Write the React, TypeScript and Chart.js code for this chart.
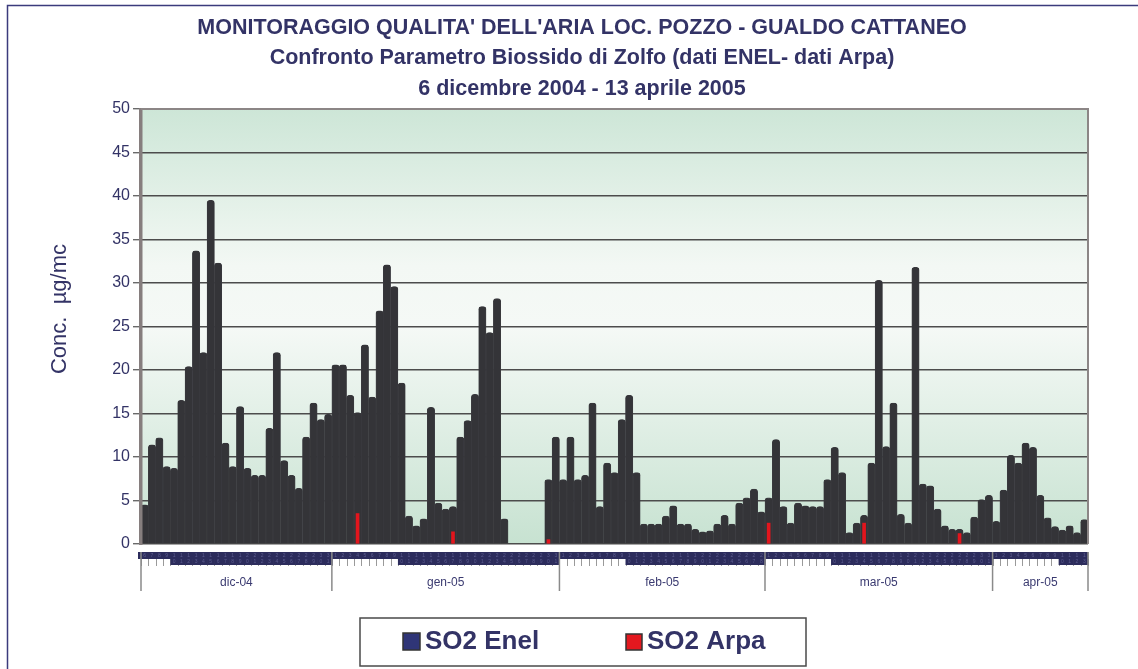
import React, { useEffect, useRef } from 'react';
import { Chart, registerables } from 'chart.js';

Chart.register(...registerables);

const TITLE_LINES = [
  "MONITORAGGIO QUALITA' DELL'ARIA LOC. POZZO - GUALDO CATTANEO",
  'Confronto Parametro Biossido di Zolfo (dati ENEL- dati Arpa)',
  '6 dicembre 2004 - 13 aprile 2005',
];
const Y_TITLE = 'Conc.  µg/mc';
const LEGEND_ENEL = 'SO2 Enel';
const LEGEND_ARPA = 'SO2 Arpa';

const MONTH_LABELS = ['dic-04', 'gen-05', 'feb-05', 'mar-05', 'apr-05'];
const MONTH_NUMBERS = [12, 1, 2, 3, 4];
const MONTH_YEARS = [2004, 2005, 2005, 2005, 2005];
const MONTH_FIRST_DAY = [6, 1, 1, 1, 1];
const MONTH_LAST_DAY = [31, 31, 28, 31, 13];

const Y_TICKS = [0, 5, 10, 15, 20, 25, 30, 35, 40, 45, 50];

// SO2 Enel, one value per day from 6 Dec 2004 to 13 Apr 2005 (µg/mc)
const ENEL_DEC = [4.5, 11.4, 12.2, 8.9, 8.7, 16.5, 20.4, 33.7, 22.0, 39.5, 32.3, 11.6, 8.9, 15.8, 8.7, 7.9, 7.9, 13.3, 22.0, 9.6, 7.9, 6.4, 12.3, 16.2, 14.3, 14.9];
const ENEL_JAN = [20.6, 20.6, 17.1, 15.1, 22.9, 16.9, 26.8, 32.1, 29.6, 18.5, 3.2, 2.1, 2.9, 15.7, 4.7, 4.0, 4.3, 12.3, 14.2, 17.2, 27.3, 24.3, 28.2, 2.9, 0, 0, 0, 0, 0, 7.4, 12.3];
const ENEL_FEB = [7.4, 12.3, 7.4, 7.9, 16.2, 4.3, 9.3, 8.2, 14.3, 17.1, 8.2, 2.3, 2.3, 2.3, 3.2, 4.4, 2.3, 2.3, 1.7, 1.4, 1.5, 2.3, 3.3, 2.3, 4.7, 5.3, 6.3, 3.7];
const ENEL_MAR = [5.3, 12.0, 4.3, 2.4, 4.7, 4.4, 4.3, 4.3, 7.4, 11.1, 8.2, 1.3, 2.4, 3.3, 9.3, 30.3, 11.2, 16.2, 3.4, 2.4, 31.8, 6.9, 6.7, 4.0, 2.1, 1.7, 1.7, 1.3, 3.1, 5.1, 5.6];
const ENEL_APR = [2.6, 6.2, 10.2, 9.3, 11.6, 11.1, 5.6, 3.0, 2.0, 1.6, 2.1, 1.3, 2.8];

// SO2 Arpa: the few days where the series is visible
const ARPA_DAY_INDEX = [29, 42, 55, 85, 98, 111];
const ARPA_VALUES = [3.5, 1.4, 0.5, 2.4, 2.4, 1.2];

const NAVY = '#333366';

export default function App() {
  const canvasRef = useRef<HTMLCanvasElement | null>(null);

  useEffect(() => {
    const canvas = canvasRef.current;
    if (!canvas) return;

    const dayNumbers: number[] = [];
    const labels: string[] = [];
    const monthStart: number[] = [];
    MONTH_LABELS.forEach((_, m) => {
      monthStart.push(dayNumbers.length);
      for (let d = MONTH_FIRST_DAY[m]; d <= MONTH_LAST_DAY[m]; d++) {
        dayNumbers.push(d);
        labels.push(`${String(d).padStart(2, '0')}/${String(MONTH_NUMBERS[m]).padStart(2, '0')}/${MONTH_YEARS[m]}`);
      }
    });
    monthStart.push(dayNumbers.length);

    const enel = [...ENEL_DEC, ...ENEL_JAN, ...ENEL_FEB, ...ENEL_MAR, ...ENEL_APR];
    const arpa: (number | null)[] = labels.map(() => null);
    ARPA_DAY_INDEX.forEach((idx, k) => {
      arpa[idx] = ARPA_VALUES[k];
    });

    const decor = {
      id: 'decor',
      beforeDraw(chart: any) {
        const { ctx, chartArea: a } = chart;
        ctx.save();
        ctx.fillStyle = '#ffffff';
        ctx.fillRect(0, 0, chart.width, chart.height);
        const g = ctx.createLinearGradient(0, a.top, 0, a.bottom);
        g.addColorStop(0, '#cde6d7');
        g.addColorStop(0.36, '#f3f8f4');
        g.addColorStop(0.5, '#f5f9f6');
        g.addColorStop(1, '#c7e2d1');
        ctx.fillStyle = g;
        ctx.fillRect(a.left, a.top, a.right - a.left, a.bottom - a.top);
        ctx.restore();
      },
      afterDraw(chart: any) {
        const { ctx, chartArea: a } = chart;
        const xs = chart.scales.x;
        const w = xs.getPixelForValue(1) - xs.getPixelForValue(0);
        const n = dayNumbers.length;
        const edge = (i: number) => (i >= n ? xs.getPixelForValue(n - 1) + w / 2 : xs.getPixelForValue(i) - w / 2);
        ctx.save();

        // plot frame: left wall, top and right borders
        ctx.fillStyle = '#867e7e';
        ctx.fillRect(a.left - 2, a.top - 1, 3.5, a.bottom - a.top + 2);
        ctx.strokeStyle = '#8c8686';
        ctx.lineWidth = 2;
        ctx.beginPath();
        ctx.moveTo(a.left, a.top);
        ctx.lineTo(a.right, a.top);
        ctx.lineTo(a.right, a.bottom);
        ctx.stroke();

        // day tick marks
        ctx.strokeStyle = '#9a9a9a';
        ctx.lineWidth = 1;
        for (let i = 0; i <= n; i++) {
          const x = Math.round(edge(i)) + 0.5;
          ctx.beginPath();
          ctx.moveTo(x, a.bottom + 8);
          ctx.lineTo(x, a.bottom + 22);
          ctx.stroke();
        }
        // day labels (dense, squashed)
        const row1 = a.bottom + 8;
        ctx.fillStyle = '#2c2c5c';
        ctx.fillRect(a.left - 3, row1, a.right - a.left + 3, 7);
        for (let i = 0; i < n; i++) {
          if (dayNumbers[i] >= 10) {
            ctx.fillRect(edge(i), row1 + 7, w + 0.5, 6);
          }
        }
        ctx.fillStyle = '#5c5c8e';
        ctx.font = '5px Arial';
        ctx.textAlign = 'center';
        ctx.textBaseline = 'middle';
        for (let i = 0; i < n; i++) {
          const s = String(dayNumbers[i]);
          const cx = xs.getPixelForValue(i);
          ctx.fillText(s[0], cx, row1 + 3.5);
          if (s.length > 1) ctx.fillText(s[1], cx, row1 + 10);
        }

        // month separators and labels
        ctx.strokeStyle = '#8a8a8a';
        ctx.lineWidth = 1.5;
        for (let m = 0; m < monthStart.length; m++) {
          const x = edge(monthStart[m]);
          ctx.beginPath();
          ctx.moveTo(x, row1);
          ctx.lineTo(x, a.bottom + 47);
          ctx.stroke();
        }
        ctx.fillStyle = '#3a3a70';
        ctx.font = '12px Arial';
        MONTH_LABELS.forEach((lab, m) => {
          const x0 = edge(monthStart[m]);
          const x1 = edge(monthStart[m + 1]);
          ctx.fillText(lab, (x0 + x1) / 2, a.bottom + 39);
        });

        // title
        ctx.fillStyle = NAVY;
        ctx.font = 'bold 21.5px Arial';
        ctx.textAlign = 'center';
        ctx.textBaseline = 'middle';
        TITLE_LINES.forEach((t, k) => ctx.fillText(t, 582, 28 + k * 30.5));

        // y title
        ctx.save();
        ctx.translate(60, 309);
        ctx.rotate(-Math.PI / 2);
        ctx.font = '22px Arial';
        ctx.fillStyle = NAVY;
        ctx.fillText(Y_TITLE, 0, 0);
        ctx.restore();

        // legend
        ctx.fillStyle = '#ffffff';
        ctx.fillRect(360, 618, 446, 48);
        ctx.strokeStyle = '#4a4a4a';
        ctx.lineWidth = 1.5;
        ctx.strokeRect(360, 618, 446, 48);
        ctx.lineWidth = 1.5;
        ctx.strokeStyle = '#333333';
        ctx.fillStyle = '#2f3577';
        ctx.fillRect(403, 633, 17, 17);
        ctx.strokeRect(403, 633, 17, 17);
        ctx.fillStyle = '#e3181f';
        ctx.fillRect(626, 634, 16, 16);
        ctx.strokeRect(626, 634, 16, 16);
        ctx.fillStyle = NAVY;
        ctx.font = 'bold 26px Arial';
        ctx.textAlign = 'left';
        ctx.textBaseline = 'middle';
        ctx.fillText(LEGEND_ENEL, 425, 642);
        ctx.fillText(LEGEND_ARPA, 647, 642);

        // outer frame
        ctx.strokeStyle = '#3b3b7c';
        ctx.lineWidth = 1.5;
        ctx.beginPath();
        ctx.moveTo(7.5, chart.height + 5);
        ctx.lineTo(7.5, 5.5);
        ctx.lineTo(chart.width + 5, 5.5);
        ctx.stroke();

        ctx.restore();
      },
    };

    const chart = new Chart(canvas, {
      type: 'bar',
      data: {
        labels,
        datasets: [
          {
            label: LEGEND_ENEL,
            data: enel,
            backgroundColor: '#343438',
            borderColor: '#3d3d42',
            borderWidth: 0.6,
            borderSkipped: 'start',
            borderRadius: { topLeft: 3, topRight: 3, bottomLeft: 0, bottomRight: 0 },
            barPercentage: 1.0,
            categoryPercentage: 1.0,
            grouped: false,
            order: 1,
          },
          {
            label: LEGEND_ARPA,
            data: arpa,
            backgroundColor: '#e3151d',
            borderWidth: 0,
            barThickness: 3,
            grouped: false,
            order: 0,
          },
        ],
      },
      options: {
        responsive: false,
        animation: false,
        devicePixelRatio: 1,
        layout: { padding: { left: 20, right: 50, top: 109, bottom: 125 } },
        plugins: {
          legend: { display: false },
          title: { display: false },
          tooltip: { enabled: false },
        },
        scales: {
          x: {
            type: 'category',
            display: false,
            offset: true,
          },
          y: {
            min: 0,
            max: 50,
            afterFit: (s: any) => {
              s.width = 121;
            },
            afterBuildTicks: (s: any) => {
              s.ticks = Y_TICKS.map((v) => ({ value: v }));
            },
            border: { display: false },
            grid: {
              color: '#4c4c4c',
              lineWidth: 1.4,
              tickLength: 8,
              tickColor: '#6a6a6a',
            },
            ticks: {
              color: NAVY,
              font: { family: 'Arial', size: 16 },
              padding: 3,
            },
          },
        },
      },
      plugins: [decor],
    });

    return () => chart.destroy();
  }, []);

  return (
    <div style={{ position: 'absolute', left: 0, top: 0, width: 1138, height: 669, background: '#fff' }}>
      <canvas ref={canvasRef} width={1138} height={669} style={{ display: 'block' }} />
    </div>
  );
}
